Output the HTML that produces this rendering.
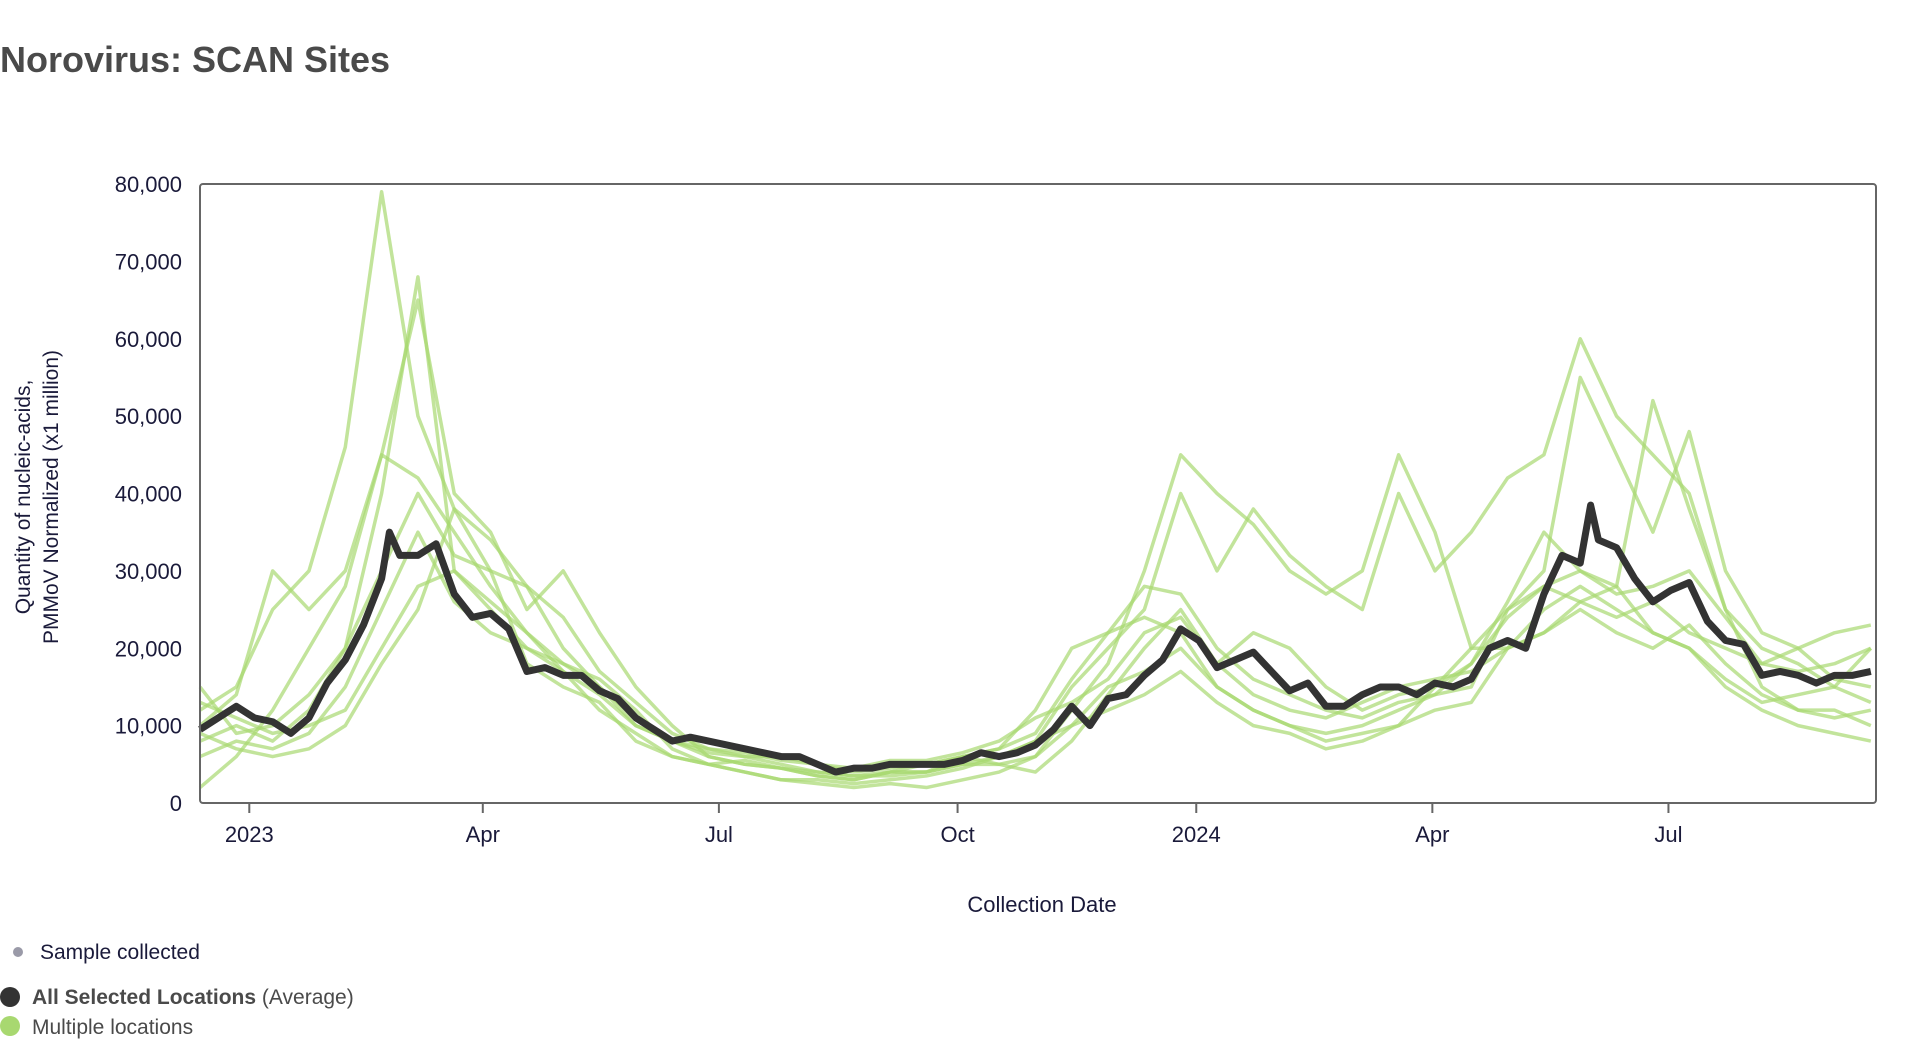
<!DOCTYPE html>
<html><head><meta charset="utf-8">
<style>
body{margin:0;background:#fff;width:1916px;height:1058px;overflow:hidden;font-family:"Liberation Sans",Arial,sans-serif;}
svg{position:absolute;left:0;top:0}
</style></head>
<body>
<svg id="chart" width="1916" height="1058">
<text x="0" y="72" font-size="36" font-weight="bold" fill="#4a4a4a">Norovirus: SCAN Sites</text>
<g id="yaxis"></g><g id="xaxis"></g>
<g id="series"></g>
<rect x="200" y="184" width="1676" height="619" rx="3" fill="none" stroke="#666" stroke-width="2"/>
<text transform="translate(34,497) rotate(-90)" text-anchor="middle" font-size="21" fill="#1a1a3a"><tspan x="0" dy="-4">Quantity of nucleic-acids,</tspan><tspan x="0" dy="28">PMMoV Normalized (x1 million)</tspan></text>
<text x="1042" y="912" text-anchor="middle" font-size="22" fill="#1a1a3a">Collection Date</text>
<g><circle cx="18" cy="952" r="5" fill="#9a9aa8"/><text x="40" y="959" font-size="21" fill="#1a1a3a">Sample collected</text></g>
<g><circle cx="10" cy="997" r="10" fill="#333"/><text x="32" y="1004" font-size="21" fill="#4a4a4a"><tspan font-weight="bold">All Selected Locations</tspan> (Average)</text></g>
<g><circle cx="10" cy="1026" r="10" fill="#a8d870"/><text x="32" y="1034" font-size="21" fill="#4a4a4a">Multiple locations</text></g>
</svg>
<script>
const yTicks=[0,10000,20000,30000,40000,50000,60000,70000,80000];
const xTickLabels=["2023","Apr","Jul","Oct","2024","Apr","Jul"];
const xTickDays=[0,90,181,273,365,456,547];
const avgDays=[-19,-12,-5,2,9,16,23,30,37,44,51,54,58,65,72,79,86,93,100,107,114,121,128,135,142,149,156,163,170,177,184,191,198,205,212,219,226,233,240,247,254,261,268,275,282,289,296,303,310,317,324,331,338,345,352,359,366,373,380,387,394,401,408,415,422,429,436,443,450,457,464,471,478,485,492,499,506,513,517,520,527,534,541,548,555,562,569,576,583,590,597,604,611,618,625];
const avgValues=[9500,11000,12500,11000,10500,9000,11000,15500,18500,23000,29000,35000,32000,32000,33500,27000,24000,24500,22500,17000,17500,16500,16500,14500,13500,11000,9500,8000,8500,8000,7500,7000,6500,6000,6000,5000,4000,4500,4500,5000,5000,5000,5000,5500,6500,6000,6500,7500,9500,12500,10000,13500,14000,16500,18500,22500,21000,17500,18500,19500,17000,14500,15500,12500,12500,14000,15000,15000,14000,15500,15000,16000,20000,21000,20000,27000,32000,31000,38500,34000,33000,29000,26000,27500,28500,23500,21000,20500,16500,17000,16500,15500,16500,16500,17000];
const siteDays=[-19,-5,9,23,37,51,65,79,93,107,121,135,149,163,177,191,205,219,233,247,261,275,289,303,317,331,345,359,373,387,401,415,429,443,457,471,485,499,513,527,541,555,569,583,597,611,625];
const siteA=[12000,15000,25000,30000,46000,79000,50000,38000,30000,28000,20000,15000,10000,8000,6000,5000,4500,4000,3500,4000,4000,5000,6000,8000,15000,20000,25000,40000,30000,38000,32000,28000,25000,40000,30000,35000,42000,45000,60000,50000,45000,40000,25000,20000,18000,15000,20000];
const siteB=[8000,10000,8000,12000,20000,40000,68000,30000,25000,20000,18000,16000,12000,7000,5000,4000,3000,2500,2000,2500,2000,3000,4000,6000,12000,18000,30000,45000,40000,36000,30000,27000,30000,45000,35000,20000,25000,30000,55000,45000,35000,48000,30000,22000,20000,22000,23000];
const siteC=[2000,6000,12000,20000,28000,45000,65000,40000,35000,25000,30000,22000,15000,10000,6000,5000,4500,3500,3000,4000,5000,6000,5000,4000,8000,14000,20000,25000,18000,22000,20000,15000,12000,14000,15000,18000,26000,35000,30000,28000,52000,38000,25000,15000,12000,12000,10000];
const siteD=[15000,9000,10000,14000,20000,30000,40000,32000,30000,18000,15000,13000,8000,6000,5000,4000,3000,3000,2500,3000,3500,4500,6000,8000,10000,15000,17000,20000,15000,12000,10000,8000,9000,10000,12000,13000,20000,25000,28000,25000,22000,20000,15000,12000,10000,9000,8000];
const siteE=[6000,8000,7000,9000,15000,25000,35000,26000,22000,20000,17000,12000,9000,6000,5000,5500,4500,3500,3000,4000,4000,5000,5000,6000,10000,12000,14000,17000,13000,10000,9000,7000,8000,10000,15000,20000,20000,22000,25000,22000,20000,23000,18000,14000,12000,11000,12000];
const siteF=[10000,14000,30000,25000,30000,45000,42000,35000,28000,22000,18000,15000,11000,8000,7000,6000,5000,4000,3500,3500,4000,6000,7000,9000,16000,22000,28000,27000,20000,16000,14000,12000,11000,13000,14000,18000,24000,28000,30000,27000,28000,30000,24000,18000,20000,16000,15000];
const siteG=[13000,11000,9000,10000,12000,20000,28000,30000,26000,22000,17000,14000,10000,8000,6500,6000,6000,5000,4500,5500,5500,6500,8000,11000,13000,16000,22000,24000,18000,14000,12000,11000,13000,15000,16000,17000,20000,22000,26000,24000,26000,22000,20000,18000,17000,18000,20000];
const siteH=[9000,7000,6000,7000,10000,18000,25000,38000,34000,28000,24000,17000,13000,9000,7000,6500,5500,5000,4000,4500,5000,6000,7000,12000,20000,22000,24000,22000,15000,12000,10000,9000,10000,12000,14000,15000,25000,28000,26000,28000,22000,20000,16000,13000,14000,15000,13000];

const NS='http://www.w3.org/2000/svg';
const X0=200,X1=1876,Y0=803,Y1=184,D0=-19,D1=627;
function xs(d){return X0+(d-D0)/(D1-D0)*(X1-X0);}
function ys(v){return Y0-v/80000*(Y0-Y1);}
function mk(t,a,p){const e=document.createElementNS(NS,t);for(const k in a)e.setAttribute(k,a[k]);p.appendChild(e);return e;}
const ya=document.getElementById('yaxis');
yTicks.forEach(v=>{
  const t=mk('text',{x:182,y:ys(v)+8,'text-anchor':'end','font-size':22,fill:'#1a1a3a'},ya);
  t.textContent=v.toLocaleString('en-US');
  
  
});
const xa=document.getElementById('xaxis');
xTickDays.forEach((d,i)=>{
  const l=mk('line',{x1:xs(d),x2:xs(d),y1:803,y2:813,stroke:'#666','stroke-width':2},xa);
  
  
  const t=mk('text',{x:xs(d),y:842,'text-anchor':'middle','font-size':22,fill:'#1a1a3a'},xa);
  t.textContent=xTickLabels[i];
  
  
});
const sg=document.getElementById('series');
[siteA,siteB,siteC,siteD,siteE,siteF,siteG,siteH].forEach(vals=>{
  const p=mk('polyline',{points:vals.map((v,i)=>xs(siteDays[i])+','+ys(v)).join(' '),fill:'none',stroke:'#a8d870','stroke-opacity':0.7,'stroke-width':3.5,'stroke-linejoin':'round'},sg);
  
  
});
const avg=mk('polyline',{points:avgValues.map((v,i)=>xs(avgDays[i])+','+ys(v)).join(' '),fill:'none',stroke:'#333','stroke-width':7,'stroke-linejoin':'round'},sg);


</script>
</body></html>
